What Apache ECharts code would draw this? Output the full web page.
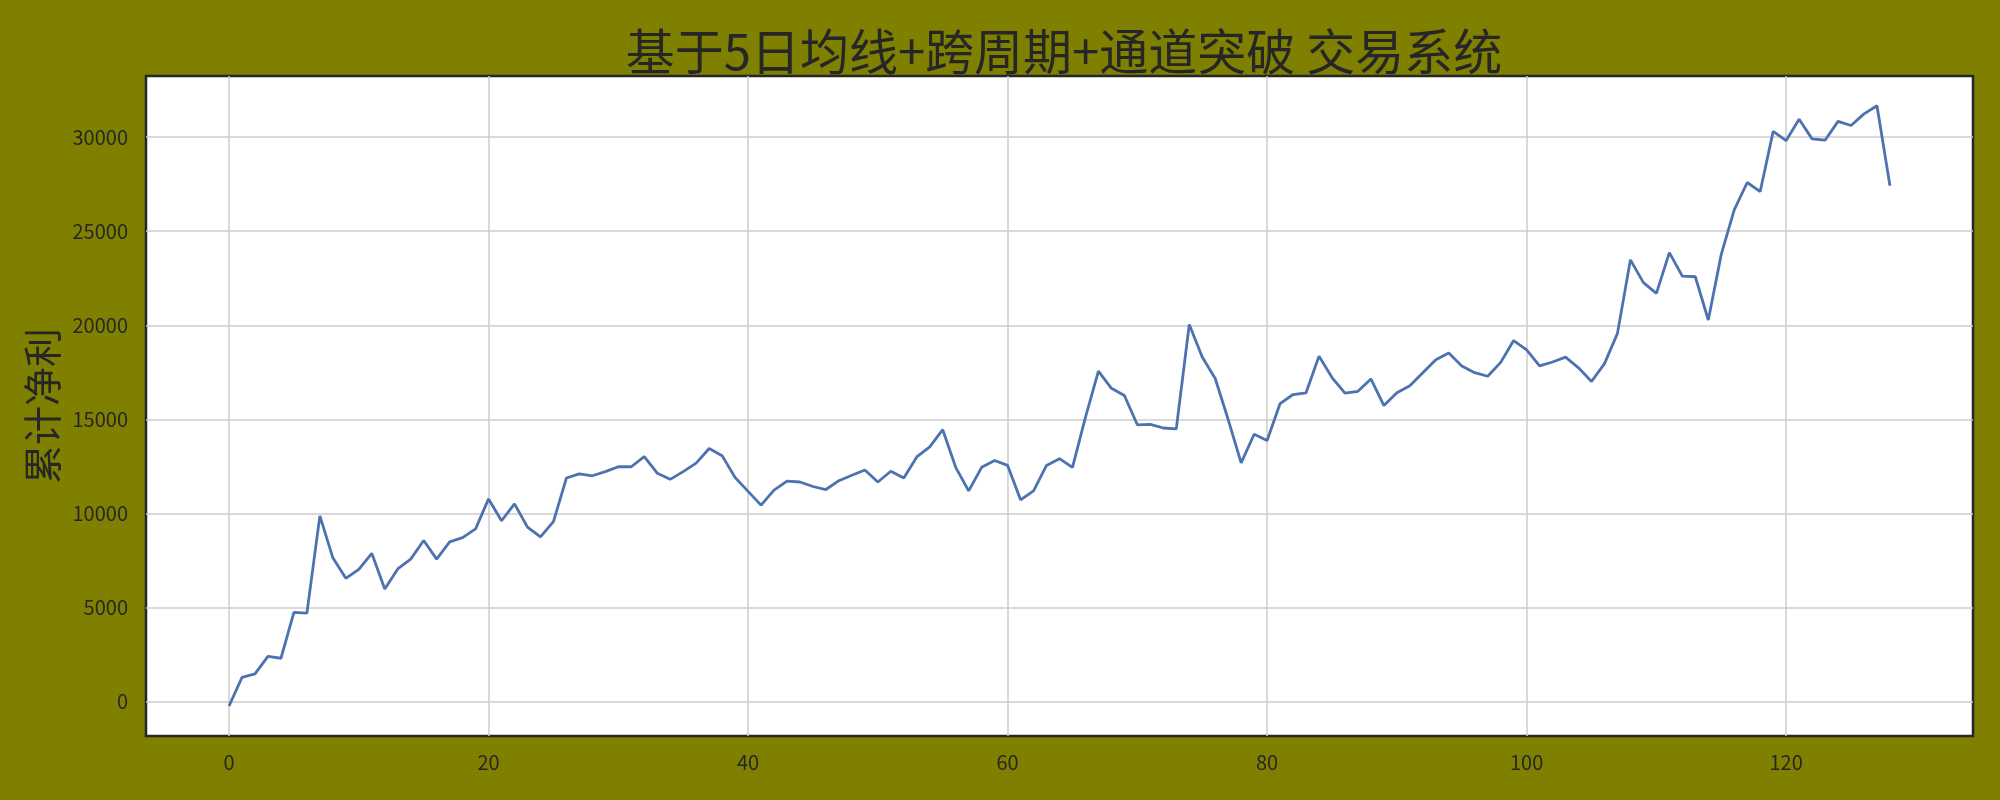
<!DOCTYPE html>
<html>
<head>
<meta charset="utf-8">
<script src="https://cdn.jsdelivr.net/npm/echarts@6/dist/echarts.min.js"></script>
<style>
html,body{margin:0;padding:0;background:#808000;}
#chart{width:2000px;height:800px;}
</style>
</head>
<body>
<div id="chart"></div>
<script>
const titleText = '基于5日均线+跨周期+通道突破 交易系统';
const yName = '累计净利';
const xTicks = [0, 20, 40, 60, 80, 100, 120];
const yTicks = [0, 5000, 10000, 15000, 20000, 25000, 30000];
const netProfit = [
  -240, 1280, 1470, 2400, 2300, 4740, 4700, 9870, 7640, 6550,
  7020, 7880, 5980, 7050, 7570, 8560, 7570, 8490, 8710, 9180,
  10770, 9610, 10510, 9270, 8750, 9560, 11880, 12100, 12000, 12220,
  12480, 12480, 13020, 12140, 11810, 12220, 12670, 13450, 13070, 11910,
  11170, 10440, 11240, 11720, 11670, 11430, 11270, 11740, 12030, 12310,
  11670, 12240, 11880, 13000, 13540, 14450, 12450, 11200, 12450, 12810,
  12550, 10720, 11200, 12550, 12910, 12450, 15110, 17560, 16650, 16270,
  14710, 14730, 14540, 14490, 20040, 18310, 17170, 14990, 12690, 14210,
  13880, 15840, 16320, 16410, 18360, 17220, 16390, 16490, 17150, 15730,
  16410, 16790, 17480, 18170, 18530, 17840, 17480, 17290, 18030, 19190,
  18690, 17840, 18050, 18310, 17740, 17010, 17960, 19570, 23480, 22270,
  21700, 23860, 22610, 22580, 20280, 23770, 26140, 27590, 27110, 30310,
  29820, 30950, 29910, 29840, 30840, 30620, 31240, 31670, 27420
];

const seriesData = netProfit.map((v, i) => [i, v]);
const font = '"Noto Sans CJK SC", "Liberation Sans", sans-serif';
const textColor = '#262626';

const chart = echarts.init(document.getElementById('chart'), null, {renderer: 'canvas'});
chart.setOption({
  backgroundColor: '#808000',
  animation: false,
  title: {
    text: titleText,
    left: 1059,
    top: 22,
    textAlign: 'center',
    textStyle: {fontFamily: font, fontSize: 49, fontWeight: 'normal', color: textColor}
  },
  grid: {
    left: 146, top: 76, width: 1827, height: 660,
    show: true, backgroundColor: '#ffffff', borderColor: '#262626', borderWidth: 2.5,
    containLabel: false
  },
  xAxis: {
    type: 'value',
    min: -6.4, max: 134.4,
    minInterval: xTicks[1] - xTicks[0], maxInterval: xTicks[1] - xTicks[0],
    splitNumber: 7,
    axisLine: {show: false},
    axisTick: {show: false},
    axisLabel: {
      show: true, margin: 16, color: textColor, fontFamily: font, fontSize: 20,
      showMinLabel: false, showMaxLabel: false,
      formatter: v => xTicks.includes(v) ? String(v) : ''
    },
    splitLine: {show: true, showMinLine: false, showMaxLine: false, lineStyle: {color: '#cccccc', width: 1.5}}
  },
  yAxis: {
    type: 'value',
    min: -1833, max: 33252,
    minInterval: yTicks[1] - yTicks[0], maxInterval: yTicks[1] - yTicks[0],
    splitNumber: 7,
    name: yName,
    nameLocation: 'middle',
    nameGap: 82,
    nameRotate: 90,
    nameTextStyle: {fontFamily: font, fontSize: 39, color: textColor},
    axisLine: {show: false},
    axisTick: {show: false},
    axisLabel: {
      show: true, margin: 18, color: textColor, fontFamily: font, fontSize: 20,
      showMinLabel: false, showMaxLabel: false,
      formatter: v => yTicks.includes(v) ? String(v) : ''
    },
    splitLine: {show: true, showMinLine: false, showMaxLine: false, lineStyle: {color: '#cccccc', width: 1.5}}
  },
  series: [{
    type: 'line',
    data: seriesData,
    showSymbol: false,
    symbol: 'none',
    lineStyle: {color: '#4c72b0', width: 2.8},
    z: 3
  }]
});
</script>
</body>
</html>
